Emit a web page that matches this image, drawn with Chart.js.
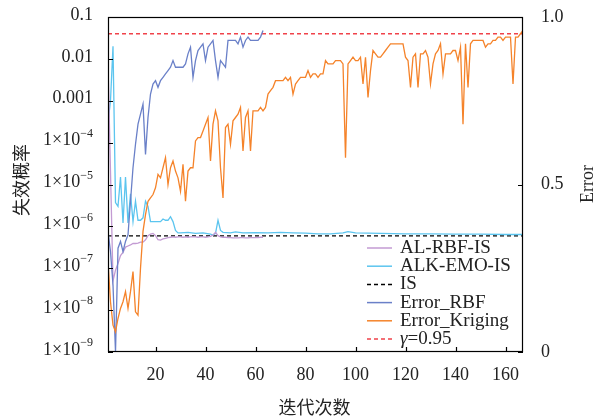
<!DOCTYPE html>
<html lang="zh-CN">
<head>
  <meta charset="UTF-8" />
  <title>失效概率与误差</title>
  <script src="https://cdn.jsdelivr.net/npm/chart.js"></script>
<style>
  body {
    margin: 0;
    background-color: white;
  }
  #wrap {
    width: 595px;
    height: 420px;
  }
</style>
</head>
<body>
  <div id="wrap"><canvas id="chart" width="595" height="420"></canvas></div>

  <script>
    // AL-RBF-IS 失效概率 (iter 1..63)
    const alRbfPf = [
      8e-3, 2e-5, 5e-8, 9e-8, 1.3e-7, 2e-7, 2.4e-7, 3.2e-7, 3.4e-7, 3.6e-7,
      3.9e-7, 3.9e-7, 4.0e-7, 4.2e-7, 4.2e-7, 4.8e-7, 6e-7, 6.5e-7, 6.8e-7, 6e-7,
      4.8e-7, 4.7e-7, 5.0e-7, 5.2e-7, 5.4e-7, 5.5e-7, 5.6e-7, 5.5e-7, 5.6e-7, 5.6e-7,
      5.5e-7, 5.6e-7, 5.5e-7, 5.6e-7, 5.7e-7, 5.6e-7, 5.5e-7, 5.6e-7, 5.6e-7, 5.5e-7,
      5.6e-7, 5.8e-7, 6.2e-7, 7.2e-7, 6e-7, 5.6e-7, 5.5e-7, 5.5e-7, 5.4e-7, 5.4e-7,
      5.3e-7, 5.3e-7, 5.3e-7, 5.4e-7, 5.4e-7, 5.3e-7, 5.3e-7, 5.4e-7, 5.4e-7, 5.4e-7,
      5.4e-7, 5.5e-7, 5.5e-7
    ];

    // ALK-EMO-IS 失效概率
    const alkIter = [
      1, 2, 3, 4, 5, 6, 7, 8, 9, 10,
      11, 12, 13, 14, 15, 16, 17, 18, 19, 20,
      21, 22, 23, 24, 25, 26, 27, 28, 29, 30,
      33, 36, 39, 42, 43, 44, 45, 46, 47, 50,
      52, 55, 60, 65, 70, 75, 80, 85, 90, 95,
      97, 100, 110, 120, 130, 140, 150, 160, 167
    ];
    const alkPf = [
      3e-4, 1e-3, 2e-2, 3.7e-6, 3.0e-6, 1.5e-5, 1.2e-6, 1.5e-5, 1.2e-6, 6e-6,
      1.3e-6, 4e-6, 1.4e-6, 1.4e-6, 1.6e-6, 4e-6, 3e-6, 1.3e-6, 1.3e-6, 1.3e-6,
      1.3e-6, 1.3e-6, 1.5e-6, 1.4e-6, 1.4e-6, 1.7e-6, 1.3e-6, 8e-7, 7e-7, 7e-7,
      7.2e-7, 6.8e-7, 7e-7, 6.5e-7, 6.2e-7, 6.8e-7, 1.4e-6, 8e-7, 7.2e-7, 7e-7,
      7.4e-7, 7e-7, 7.1e-7, 7e-7, 7.2e-7, 7e-7, 6.9e-7, 6.6e-7, 6.6e-7, 7e-7,
      7.5e-7, 7e-7, 6.8e-7, 6.6e-7, 6.6e-7, 6.5e-7, 6.5e-7, 6.4e-7, 6.4e-7
    ];

    // IS 参考值
    const isPf = 5.9e-7;

    // Error_RBF (iter 1..63)
    const errRbf = [
      0.36, 0.30, 0.20, 0.00, 0.31, 0.33, 0.30, 0.33, 0.35, 0.45,
      0.55, 0.62, 0.68, 0.71, 0.74, 0.59, 0.70, 0.77, 0.80, 0.81,
      0.79, 0.81, 0.82, 0.83, 0.84, 0.85, 0.87, 0.85, 0.85, 0.85,
      0.85, 0.86, 0.89, 0.91, 0.82, 0.87, 0.90, 0.91, 0.92, 0.87,
      0.91, 0.92, 0.93, 0.87, 0.82, 0.87, 0.86, 0.85, 0.93, 0.93,
      0.93, 0.93, 0.92, 0.94, 0.91, 0.93, 0.94, 0.93, 0.93, 0.93,
      0.93, 0.94, 0.96
    ];

    // Error_Kriging (iter 1..167)
    const errKriging = [
      0.27, 0.15, 0.08, 0.06, 0.10, 0.13, 0.15, 0.18, 0.13, 0.18,
      0.24, 0.12, 0.11, 0.25, 0.36, 0.41, 0.45, 0.46, 0.47, 0.49,
      0.53, 0.52, 0.55, 0.58, 0.50, 0.55, 0.57, 0.54, 0.52, 0.48,
      0.56, 0.45, 0.54, 0.55, 0.55, 0.63, 0.64, 0.64, 0.66, 0.68,
      0.70, 0.57, 0.68, 0.72, 0.69, 0.55, 0.46, 0.67, 0.68, 0.62,
      0.69, 0.70, 0.71, 0.73, 0.60, 0.70, 0.72, 0.60, 0.72, 0.72,
      0.72, 0.73, 0.72, 0.73, 0.77, 0.78, 0.79, 0.81, 0.81, 0.81,
      0.81, 0.82, 0.81, 0.82, 0.77, 0.80, 0.81, 0.82, 0.82, 0.82,
      0.84, 0.82, 0.83, 0.83, 0.82, 0.83, 0.83, 0.87, 0.86, 0.86,
      0.86, 0.87, 0.87, 0.87, 0.86, 0.58, 0.86, 0.87, 0.88, 0.87,
      0.87, 0.88, 0.80, 0.88, 0.76, 0.84, 0.90, 0.89, 0.88, 0.88,
      0.89, 0.90, 0.91, 0.92, 0.92, 0.92, 0.92, 0.92, 0.92, 0.88,
      0.87, 0.79, 0.88, 0.89, 0.79, 0.89, 0.89, 0.90, 0.88, 0.80,
      0.86, 0.89, 0.90, 0.92, 0.83, 0.89, 0.89, 0.89, 0.90, 0.90,
      0.87, 0.91, 0.68, 0.92, 0.79, 0.92, 0.93, 0.93, 0.93, 0.93,
      0.93, 0.91, 0.92, 0.92, 0.93, 0.93, 0.94, 0.94, 0.93, 0.94,
      0.94, 0.94, 0.80, 0.94, 0.94, 0.95, 0.96
    ];

    const gamma = 0.95;
    const iterMin = 1, iterMax = 167;

    // 刻度
    const xTicks = [20, 40, 60, 80, 100, 120, 140, 160];
    const leftTicks = [0.1, 0.01, 0.001, 1e-4, 1e-5, 1e-6, 1e-7, 1e-8, 1e-9];
    const leftTickLabels = ['0.1', '0.01', '0.001', '1×10^−4', '1×10^−5', '1×10^−6', '1×10^−7', '1×10^−8', '1×10^−9'];
    const rightTicks = [1.0, 0.5, 0];
    const rightTickLabels = ['1.0', '0.5', '0'];

    const legendLabels = ['AL-RBF-IS', 'ALK-EMO-IS', 'IS', 'Error_RBF', 'Error_Kriging', 'γ=0.95'];

    const SERIF = '"Liberation Serif", "Times New Roman", "Noto Sans CJK SC", serif';
    const CJK = '"Noto Sans CJK SC", "Liberation Serif", sans-serif';

    const toXY = (xs, ys) => ys.map((v, i) => ({ x: xs[i], y: v }));
    const seq = (n) => Array.from({ length: n }, (_, i) => i + 1);

    const datasets = [
      { label: legendLabels[4], data: toXY(seq(errKriging.length), errKriging), yAxisID: 'yR',
        borderColor: '#f5832a', borderWidth: 1.3 },
      { label: legendLabels[3], data: toXY(seq(errRbf.length), errRbf), yAxisID: 'yR',
        borderColor: '#6a80c8', borderWidth: 1.3 },
      { label: legendLabels[0], data: toXY(seq(alRbfPf.length), alRbfPf), yAxisID: 'yL',
        borderColor: '#c39bd3', borderWidth: 1.3 },
      { label: legendLabels[1], data: toXY(alkIter, alkPf), yAxisID: 'yL',
        borderColor: '#5cc5ef', borderWidth: 1.3 },
      { label: legendLabels[2], data: toXY([iterMin, iterMax], [isPf, isPf]), yAxisID: 'yL',
        borderColor: '#000', borderWidth: 1.2, borderDash: [4, 3] },
      { label: legendLabels[5], data: toXY([iterMin, iterMax], [gamma, gamma]), yAxisID: 'yR',
        borderColor: '#f0424a', borderWidth: 1.3, borderDash: [4, 3] }
    ];
    datasets.forEach(d => { d.pointRadius = 0; d.tension = 0; d.fill = false; });

    // 图例样式，顺序同 legendLabels
    const legendStyle = [
      { color: '#c39bd3', dash: [] },
      { color: '#5cc5ef', dash: [] },
      { color: '#000', dash: [4, 3] },
      { color: '#6a80c8', dash: [] },
      { color: '#f5832a', dash: [] },
      { color: '#f0424a', dash: [4, 3] }
    ];

    const framePlugin = {
      id: 'frame',
      afterDraw(chart) {
        const { ctx, chartArea: a, scales } = chart;
        const x = scales.x, yl = scales.yL, yr = scales.yR;
        ctx.save();

        // 边框
        ctx.strokeStyle = '#000';
        ctx.lineWidth = 1.2;
        ctx.strokeRect(a.left + 0.5, a.top + 0.5, a.right - a.left - 1, a.bottom - a.top - 1);

        // 向内刻度
        ctx.beginPath();
        leftTicks.forEach(v => {
          const p = Math.round(yl.getPixelForValue(v)) + 0.5;
          ctx.moveTo(a.left, p); ctx.lineTo(a.left + 5, p);
        });
        rightTicks.forEach(v => {
          const p = Math.round(yr.getPixelForValue(v)) + 0.5;
          ctx.moveTo(a.right, p); ctx.lineTo(a.right - 5, p);
        });
        xTicks.forEach(v => {
          const p = Math.round(x.getPixelForValue(v)) + 0.5;
          ctx.moveTo(p, a.bottom); ctx.lineTo(p, a.bottom - 5);
        });
        ctx.stroke();

        ctx.fillStyle = '#222';
        ctx.textBaseline = 'middle';

        // 左轴标签
        leftTicks.forEach((v, i) => {
          const y = yl.getPixelForValue(v) - 2;
          const parts = leftTickLabels[i].split('^');
          const xr = a.left - 15;
          ctx.font = '18px ' + SERIF;
          if (parts.length === 1) {
            ctx.textAlign = 'right';
            ctx.fillText(parts[0], xr, y);
          } else {
            ctx.font = '12px ' + SERIF;
            const we = ctx.measureText(parts[1]).width;
            ctx.textAlign = 'left';
            ctx.fillText(parts[1], xr - we, y - 7);
            ctx.font = '18px ' + SERIF;
            const wb = ctx.measureText(parts[0]).width;
            ctx.fillText(parts[0], xr - we - wb, y);
          }
        });

        // 右轴标签
        ctx.font = '18px ' + SERIF;
        ctx.textAlign = 'left';
        rightTicks.forEach((v, i) => {
          ctx.fillText(rightTickLabels[i], a.right + 18, yr.getPixelForValue(v));
        });

        // x 轴标签
        ctx.textAlign = 'center';
        xTicks.forEach(v => {
          ctx.fillText(String(v), x.getPixelForValue(v), a.bottom + 23);
        });

        // 轴标题
        ctx.font = '18px ' + CJK;
        ctx.fillText('迭代次数', (a.left + a.right) / 2 - 1, 407);
        ctx.save();
        ctx.translate(21, 180);
        ctx.rotate(-Math.PI / 2);
        ctx.fillText('失效概率', 0, 0);
        ctx.restore();
        ctx.save();
        ctx.font = '18px ' + SERIF;
        ctx.translate(588, 184);
        ctx.rotate(-Math.PI / 2);
        ctx.fillText('Error', 0, 0);
        ctx.restore();

        // 图例
        const lx0 = 367, lx1 = 392, tx = 400, ly0 = 248, step = 18.2;
        legendLabels.forEach((lab, i) => {
          const y = ly0 + i * step;
          ctx.beginPath();
          ctx.setLineDash(legendStyle[i].dash);
          ctx.strokeStyle = legendStyle[i].color;
          ctx.lineWidth = 1.5;
          ctx.moveTo(lx0, y); ctx.lineTo(lx1, y);
          ctx.stroke();
          ctx.setLineDash([]);
          ctx.fillStyle = '#222';
          ctx.textAlign = 'left';
          if (lab.startsWith('γ')) {
            ctx.font = 'italic 19px ' + SERIF;
            ctx.fillText('γ', tx, y);
            const w = ctx.measureText('γ').width;
            ctx.font = '19px ' + SERIF;
            ctx.fillText(lab.slice(1), tx + w, y);
          } else {
            ctx.font = '19px ' + SERIF;
            ctx.fillText(lab, tx, y);
          }
        });

        ctx.restore();
      }
    };

    new Chart(document.getElementById('chart'), {
      type: 'line',
      data: { datasets },
      options: {
        responsive: false,
        animation: false,
        layout: { padding: { left: 108, right: 72, top: 17, bottom: 68 } },
        plugins: { legend: { display: false }, tooltip: { enabled: false } },
        scales: {
          x: { type: 'linear', min: iterMin, max: iterMax, display: false },
          yL: { type: 'logarithmic', position: 'left', min: 1e-9, max: 0.1, display: false },
          yR: { type: 'linear', position: 'right', min: 0, max: 1, display: false }
        }
      },
      plugins: [framePlugin]
    });
  </script>
</body>
</html>
